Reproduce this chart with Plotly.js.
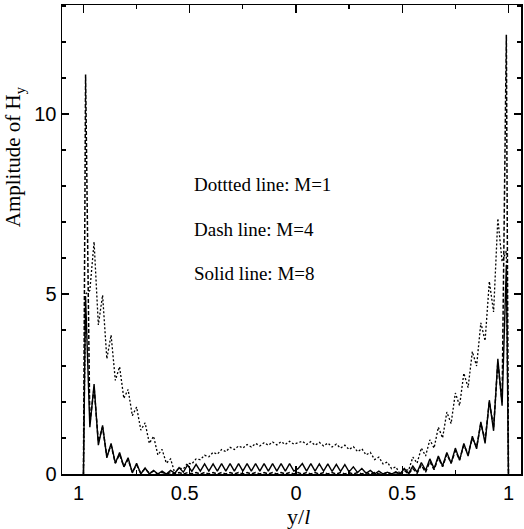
<!DOCTYPE html>
<html>
<head>
<meta charset="utf-8">
<script src="https://cdn.plot.ly/plotly-3.0.1.min.js"></script>
<style>html,body{margin:0;padding:0;background:#fff;}#chart{width:524px;height:529px;}</style>
</head>
<body>
<div id="chart"></div>
<script>
// Normalised position across the guide, y/l (from -1 to 1)
const yPos = [-1,
  -0.99,-0.97,-0.95,-0.93,-0.91,-0.89,-0.87,-0.85,-0.83,-0.81,
  -0.79,-0.77,-0.75,-0.73,-0.71,-0.69,-0.67,-0.65,-0.63,-0.61,
  -0.59,-0.57,-0.55,-0.53,-0.51,-0.49,-0.47,-0.45,-0.43,-0.41,
  -0.39,-0.37,-0.35,-0.33,-0.31,-0.29,-0.27,-0.25,-0.23,-0.21,
  -0.19,-0.17,-0.15,-0.13,-0.11,-0.09,-0.07,-0.05,-0.03,-0.01,
  0.01,0.03,0.05,0.07,0.09,0.11,0.13,0.15,0.17,0.19,
  0.21,0.23,0.25,0.27,0.29,0.31,0.33,0.35,0.37,0.39,
  0.41,0.43,0.45,0.47,0.49,0.51,0.53,0.55,0.57,0.59,
  0.61,0.63,0.65,0.67,0.69,0.71,0.73,0.75,0.77,0.79,
  0.81,0.83,0.85,0.87,0.89,0.91,0.93,0.95,0.97,0.99,
  1];

// M = 1 (dotted line)
const ampM1 = [0,
  5.0,5.1,6.45,4.14,4.97,3.2,3.86,2.6,2.98,2.1,
  2.35,1.62,1.86,1.22,1.42,0.85,1.05,0.53,0.68,0.3,
  0.42,0.02,0.17,0.14,0.3,0.28,0.42,0.4,0.52,0.48,
  0.6,0.55,0.68,0.62,0.74,0.68,0.78,0.72,0.82,0.75,
  0.85,0.78,0.87,0.8,0.89,0.81,0.9,0.82,0.91,0.83,
  0.87,0.91,0.82,0.9,0.8,0.88,0.78,0.86,0.75,0.83,
  0.72,0.8,0.68,0.76,0.62,0.7,0.53,0.6,0.4,0.47,
  0.28,0.33,0.15,0.2,0.0,0.15,0.1,0.47,0.3,0.72,
  0.5,0.95,0.72,1.3,1.0,1.72,1.4,2.25,1.9,2.8,
  2.4,3.4,3.0,4.2,3.7,5.35,4.5,7.1,5.9,6.2,
  0];

// M = 4 (dash line)
const ampM4 = [0,
  11.1,1.4,2.4,0.9,1.3,0.5,0.8,0.3,0.55,0.2,
  0.4,0.05,0.25,0.02,0.15,0.02,0.08,0.0,0.05,0.0,
  0.04,0.0,0.04,0.0,0.04,0.0,0.04,0.0,0.04,0.0,
  0.04,0.0,0.04,0.0,0.04,0.0,0.04,0.0,0.04,0.0,
  0.04,0.0,0.04,0.0,0.04,0.0,0.04,0.0,0.04,0.0,
  0.04,0.0,0.04,0.0,0.04,0.0,0.04,0.0,0.04,0.0,
  0.04,0.0,0.04,0.0,0.04,0.0,0.04,0.0,0.04,0.0,
  0.0,0.04,0.0,0.04,0.0,0.1,0.0,0.15,0.02,0.25,
  0.05,0.35,0.12,0.45,0.2,0.55,0.3,0.65,0.4,0.8,
  0.55,1.0,0.75,1.4,0.95,2.0,1.3,3.1,2.0,12.2,
  0];

// M = 8 (solid line)
const ampM8 = [0,
  4.9,1.3,2.5,0.8,1.35,0.45,0.85,0.3,0.6,0.2,
  0.45,0.03,0.3,0.0,0.17,0.0,0.1,0.0,0.08,0.0,
  0.1,0.02,0.18,0.05,0.25,0.07,0.27,0.08,0.28,0.08,
  0.28,0.08,0.29,0.08,0.29,0.08,0.29,0.08,0.29,0.08,
  0.29,0.08,0.29,0.08,0.29,0.08,0.29,0.08,0.29,0.08,
  0.15,0.29,0.08,0.29,0.08,0.28,0.08,0.28,0.07,0.27,
  0.07,0.26,0.06,0.2,0.04,0.15,0.02,0.1,0.0,0.08,
  0.0,0.05,0.0,0.06,0.0,0.15,0.02,0.22,0.05,0.32,
  0.1,0.42,0.15,0.5,0.22,0.6,0.3,0.72,0.38,0.85,
  0.5,1.05,0.7,1.45,0.85,2.05,1.2,3.2,1.9,5.8,
  0];

const xTickVals = [-1, -0.5, 0, 0.5, 1];
const xTickText = ['1\u2002', '0.5\u2002', '0', '0.5', '1'];
const yTickVals = [0, 5, 10];
const noteLines = ['Dottted line: M=1', 'Dash line: M=4', 'Solid line: M=8'];
const noteY = [8.03, 6.78, 5.58];

const traces = [
  {x: yPos, y: ampM1, type: 'scatter', mode: 'lines', name: 'M=1',
   line: {color: '#000', width: 1.3, dash: '2px,2px'}},
  {x: yPos, y: ampM4, type: 'scatter', mode: 'lines', name: 'M=4',
   line: {color: '#000', width: 1.5, dash: '4px,2px'}},
  {x: yPos, y: ampM8, type: 'scatter', mode: 'lines', name: 'M=8',
   line: {color: '#000', width: 1.4}}
];

const annotations = noteLines.map((t, k) => ({
  x: -0.487, y: noteY[k], xref: 'x', yref: 'y', text: t, showarrow: false,
  xanchor: 'left', yanchor: 'middle',
  font: {family: 'Liberation Serif, Times New Roman, serif', size: 19, color: '#000'}
}));
annotations.push({
  x: -0.104, y: 0.676, xref: 'paper', yref: 'paper', text: 'Amplitude of H<sub>y</sub>',
  textangle: -90, showarrow: false, xanchor: 'center', yanchor: 'middle',
  font: {family: 'Liberation Serif, Times New Roman, serif', size: 21, color: '#000'}
});
annotations.push({
  x: 0.515, y: -0.09, xref: 'paper', yref: 'paper', text: 'y/<i>l</i>',
  showarrow: false, xanchor: 'center', yanchor: 'middle',
  font: {family: 'Liberation Serif, Times New Roman, serif', size: 22, color: '#000'}
});

const layout = {
  width: 524, height: 529,
  margin: {l: 62, r: 3, t: 5, b: 55},
  paper_bgcolor: '#fff', plot_bgcolor: '#fff',
  showlegend: false,
  xaxis: {
    range: [-1.101, 1.059], showgrid: false, zeroline: false,
    showline: true, linecolor: '#000', linewidth: 1.5, mirror: 'ticks',
    tickmode: 'array', tickvals: xTickVals, ticktext: xTickText,
    ticks: 'inside', ticklen: 8, tickwidth: 1.3, tickcolor: '#000',
    minor: {tickmode: 'linear', tick0: 0, dtick: 0.25, ticks: 'inside', ticklen: 4, tickwidth: 1.2, tickcolor: '#000'},
    tickfont: {family: 'Liberation Sans, Arial, sans-serif', size: 20, color: '#000'}
  },
  yaxis: {
    range: [0, 13.03], showgrid: false, zeroline: false,
    showline: true, linecolor: '#000', linewidth: 1.5, mirror: 'ticks',
    tickmode: 'array', tickvals: yTickVals, ticktext: ['0', '5', '10'],
    ticks: 'inside', ticklen: 7, tickwidth: 1.3, tickcolor: '#000',
    minor: {tickmode: 'linear', tick0: 0, dtick: 1, ticks: 'inside', ticklen: 4, tickwidth: 1.2, tickcolor: '#000'},
    tickfont: {family: 'Liberation Sans, Arial, sans-serif', size: 20, color: '#000'}
  },
  annotations: annotations
};

Plotly.newPlot('chart', traces, layout, {displayModeBar: false, staticPlot: true});
</script>
</body>
</html>
